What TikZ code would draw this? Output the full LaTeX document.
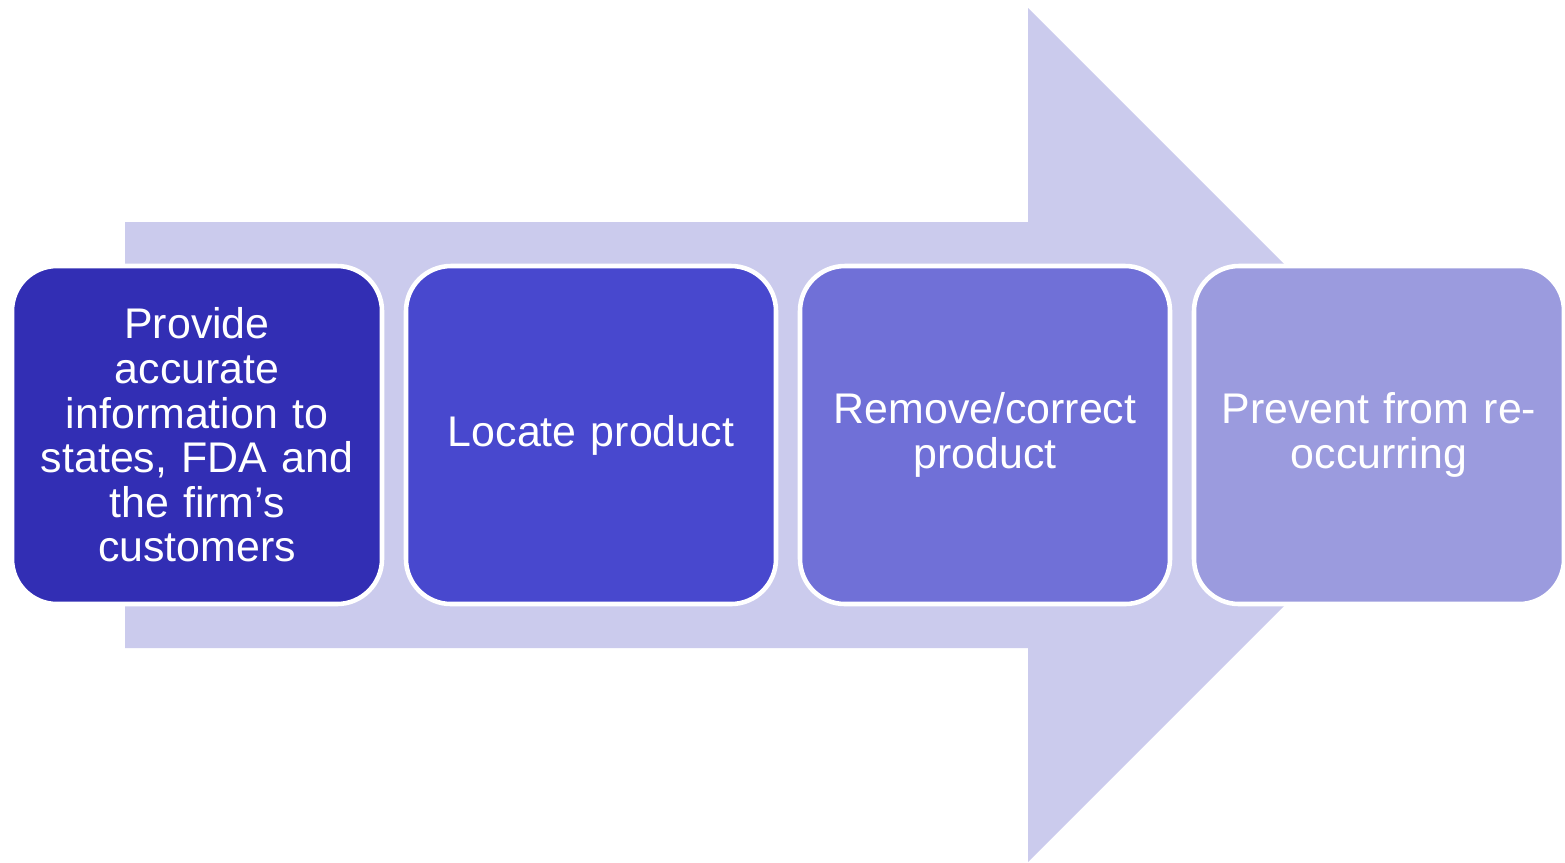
\documentclass[tikz,border=0pt]{standalone}
\usepackage{fontspec}
\setmainfont{Liberation Sans}
\usetikzlibrary {positioning}
\definecolor{stepA}{RGB}{50,46,180}
\definecolor{stepB}{RGB}{72,72,206}
\definecolor{stepC}{RGB}{112,112,215}
\definecolor{stepD}{RGB}{155,155,222}
\definecolor{arrowfill}{RGB}{203,203,237}
\begin{document}
\begin{tikzpicture}[node distance =3.94 cm and 3.94cm ,on grid ,
stepbox/.style ={ rectangle ,rounded corners =0.45cm ,draw =white ,line width =1.3pt ,
text =white ,align =center ,font =\fontsize{12.2}{12.7}\selectfont ,
minimum width =3.7 cm ,minimum height =3.38 cm ,text width =3.4 cm}]
\useasboundingbox (0,0) rectangle (15.65,-8.62);
\fill[arrowfill] (1.25,-2.22) -- (10.28,-2.22) -- (10.28,-0.08) -- (14.55,-4.35)
  -- (10.28,-8.62) -- (10.28,-6.48) -- (1.25,-6.48) -- cycle;
\node[stepbox, fill=stepA] (Inform) at (1.97,-4.35) {Provide\\ accurate\\ information to\\ states, FDA and\\ the firm’s\\ customers};
\node[stepbox, fill=stepB] (Locate) [right=of Inform] {Locate product};
\node[stepbox, fill=stepC] (Remove) [right=of Locate] {Remove/correct\\ product};
\node[stepbox, fill=stepD] (Prevent) [right=of Remove] {Prevent from re-\\ occurring};
\end{tikzpicture}
\end{document}
